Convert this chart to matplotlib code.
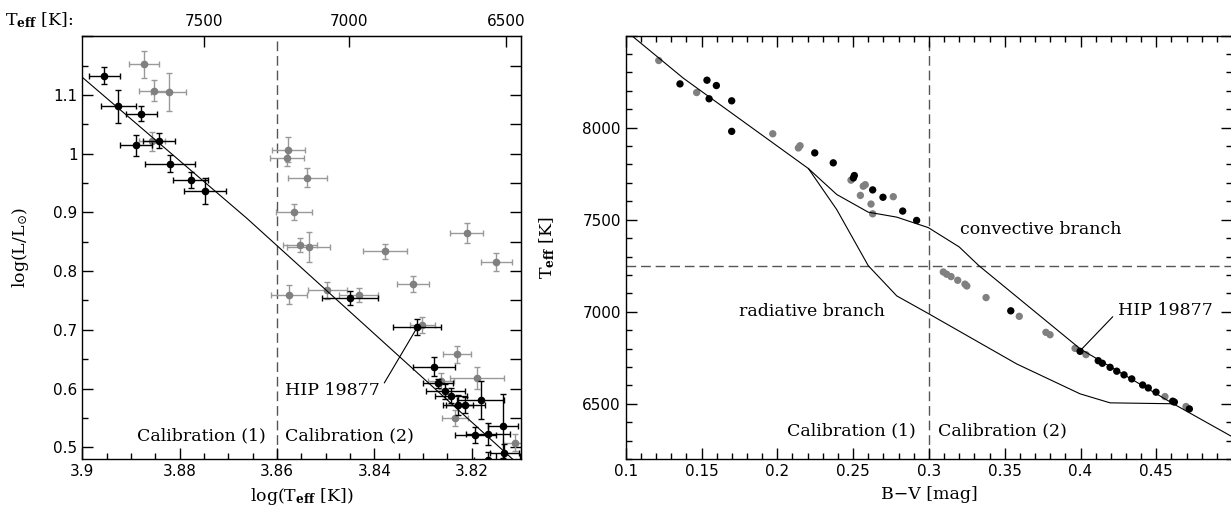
import matplotlib
matplotlib.use('Agg')
import matplotlib.pyplot as plt
import numpy as np
from matplotlib.ticker import MultipleLocator, FuncFormatter, NullLocator

plt.rcParams['mathtext.fontset'] = 'dejavuserif'

# ---------------- Left panel data: log(Teff) vs log(L/Lsun) ----------------
# calibration stars (black)
blk_logT = [3.8955, 3.8926, 3.8879, 3.8889, 3.8843, 3.8820, 3.8777, 3.8748,
            3.8450, 3.8312, 3.8278, 3.8269, 3.8254, 3.8243, 3.8228, 3.8213,
            3.8181, 3.8192, 3.8167, 3.8135, 3.8133, 3.8166]
blk_logL = [1.133, 1.081, 1.068, 1.014, 1.022, 0.983, 0.955, 0.937,
            0.754, 0.705, 0.637, 0.609, 0.595, 0.588, 0.572, 0.572,
            0.580, 0.521, 0.523, 0.536, 0.491, 0.478]
blk_xerr = [0.0032, 0.0036, 0.0032, 0.0033, 0.0033, 0.0051, 0.0036, 0.0043,
            0.0058, 0.0049, 0.0043, 0.0030, 0.0040, 0.0033, 0.0031, 0.0040,
            0.0048, 0.0043, 0.0045, 0.0031, 0.0030, 0.0030]
blk_yerr = [0.014, 0.028, 0.013, 0.018, 0.013, 0.015, 0.013, 0.022,
            0.012, 0.013, 0.016, 0.008, 0.012, 0.013, 0.017, 0.014,
            0.032, 0.014, 0.019, 0.055, 0.014, 0.014]

# other stars (grey)
gry_logT = [3.8873, 3.8853, 3.8822, 3.8857, 3.8577, 3.8580, 3.8538, 3.8565,
            3.8210, 3.8553, 3.8535, 3.8378, 3.8149, 3.8321, 3.8575, 3.8497,
            3.8432, 3.8301, 3.8230, 3.8189, 3.8263, 3.8234, 3.8110]
gry_logL = [1.152, 1.107, 1.105, 1.021, 1.007, 0.993, 0.959, 0.901,
            0.865, 0.844, 0.841, 0.834, 0.816, 0.778, 0.760, 0.767,
            0.760, 0.708, 0.658, 0.618, 0.613, 0.550, 0.508]
gry_xerr = [0.0031, 0.0031, 0.0036, 0.0027, 0.0034, 0.0035, 0.0040, 0.0036,
            0.0034, 0.0035, 0.0045, 0.0045, 0.0032, 0.0033, 0.0037, 0.0040,
            0.0040, 0.0026, 0.0029, 0.0055, 0.0027, 0.0027, 0.0026]
gry_yerr = [0.023, 0.018, 0.033, 0.016, 0.022, 0.014, 0.016, 0.014,
            0.017, 0.012, 0.025, 0.013, 0.015, 0.014, 0.016, 0.014,
            0.012, 0.014, 0.014, 0.018, 0.014, 0.013, 0.014]

# fitted relation
fit_logT = [3.9000, 3.8662, 3.8100]
fit_logL = [1.130, 0.890, 0.468]

teff_ticks = [7500, 7000, 6500]

# ---------------- Right panel data: B-V vs Teff ----------------
r_gry_bv = [0.1218, 0.1468, 0.1970, 0.2139, 0.2150, 0.2486, 0.2548, 0.2567,
            0.2580, 0.2618, 0.2629, 0.2765, 0.3095, 0.3117, 0.3146, 0.3190,
            0.3238, 0.3250, 0.3377, 0.3596, 0.3772, 0.3799, 0.3964, 0.4036,
            0.4557, 0.4696]
r_gry_T = [8365, 8191, 7967, 7890, 7902, 7715, 7632, 7682,
           7690, 7585, 7532, 7625, 7216, 7204, 7191, 7171,
           7150, 7140, 7077, 6975, 6888, 6875, 6801, 6767,
           6539, 6485]
r_blk_bv = [0.1358, 0.1536, 0.1598, 0.1550, 0.1699, 0.1699, 0.2247, 0.2369,
            0.2508, 0.2502, 0.2629, 0.2697, 0.2827, 0.2919, 0.3540, 0.3997,
            0.4117, 0.4144, 0.4195, 0.4239, 0.4287, 0.4338, 0.4410, 0.4447,
            0.4498, 0.4608, 0.4619, 0.4718]
r_blk_T = [8238, 8258, 8229, 8157, 8146, 7980, 7863, 7809,
           7740, 7727, 7662, 7622, 7547, 7496, 7005, 6785,
           6734, 6720, 6698, 6677, 6657, 6635, 6602, 6586,
           6563, 6514, 6509, 6472]

conv_bv = [0.100, 0.138, 0.2205, 0.2392, 0.260, 0.2788, 0.2996, 0.320,
           0.333, 0.400, 0.4612, 0.500]
conv_T = [8527, 8269, 7778, 7637, 7541, 7514, 7457, 7352,
          7250, 6797, 6500, 6321]
rad_bv = [0.2205, 0.2392, 0.260, 0.2788, 0.3003, 0.358, 0.3997, 0.4195, 0.4612]
rad_T = [7778, 7555, 7250, 7086, 6987, 6716, 6554, 6505, 6500]

# ---------------- Figure ----------------
fig = plt.figure(figsize=(12.31, 5.08), dpi=100)
ax1 = fig.add_axes([0.0669, 0.0959, 0.3561, 0.8333])
ax2 = fig.add_axes([0.5083, 0.0965, 0.4926, 0.8333])

SERIF = 'DejaVu Serif'
TXT = 12.5
TICK = 11
GREY = '#808080'
EGREY = '#999999'
DASH = dict(color='#555555', lw=1.0, dashes=(7, 3.5))


def fmt_skip(skip):
    def f(v, p):
        for s in skip:
            if abs(v - s) < 1e-9:
                return ''
        return f'{v:g}'
    return FuncFormatter(f)


# ----- left -----
ax1.errorbar(gry_logT, gry_logL, xerr=gry_xerr, yerr=gry_yerr, fmt='o',
             color=GREY, ms=4.5, ecolor=EGREY, elinewidth=1.0, capsize=2.5,
             capthick=1.0, zorder=2)
ax1.errorbar(blk_logT, blk_logL, xerr=blk_xerr, yerr=blk_yerr, fmt='o',
             color='black', ms=4.5, ecolor='black', elinewidth=1.0, capsize=2.5,
             capthick=1.0, zorder=3)
ax1.plot(fit_logT, fit_logL, color='black', lw=0.8, zorder=4)
ax1.axvline(3.86, **DASH, zorder=1)

ax1.set_xlim(3.9, 3.8099)
ax1.set_ylim(0.4795, 1.2005)
ax1.xaxis.set_major_locator(MultipleLocator(0.02))
ax1.xaxis.set_minor_locator(MultipleLocator(0.005))
ax1.yaxis.set_major_locator(MultipleLocator(0.1))
ax1.yaxis.set_minor_locator(MultipleLocator(0.05))
ax1.xaxis.set_major_formatter(fmt_skip([]))
ax1.yaxis.set_major_formatter(fmt_skip([1.2]))
ax1.tick_params(which='both', direction='in', top=False, right=False,
                labelsize=TICK, width=1.0)
ax1.tick_params(which='major', length=8)
ax1.tick_params(which='minor', length=4.3)

secx = ax1.secondary_xaxis('top', functions=(lambda x: 10 ** np.asarray(x),
                                             lambda t: np.log10(np.asarray(t))))
secx.set_xticks(teff_ticks)
secx.xaxis.set_minor_locator(NullLocator())
secx.xaxis.set_major_formatter(fmt_skip([]))
secx.tick_params(direction='in', length=8, labelsize=TICK, pad=5, width=1.0)

secy = ax1.secondary_yaxis('right')
secy.set_yticks(np.arange(0.5, 1.2, 0.05))
secy.yaxis.set_minor_locator(NullLocator())
secy.tick_params(direction='in', length=8, labelright=False, width=1.0)

ax1.set_xlabel(r'log(T$_{\mathbf{eff}}$ [K])', family=SERIF, fontsize=TXT, labelpad=5)
ax1.set_ylabel(r'log(L/L$_{\odot}$)', family=SERIF, fontsize=TXT, labelpad=16)
fig.text(5 / 1231, 1 - 20 / 508, r'T$_{\mathbf{eff}}$ [K]:', family=SERIF,
         fontsize=TXT, ha='left', va='center')

ax1.text(3.8624, 0.5196, 'Calibration (1)', family=SERIF, fontsize=TXT,
         ha='right', va='center')
ax1.text(3.8583, 0.5196, 'Calibration (2)', family=SERIF, fontsize=TXT,
         ha='left', va='center')
ax1.annotate('HIP 19877', xy=(3.8314, 0.701), xytext=(3.8583, 0.5975),
             family=SERIF, fontsize=TXT, ha='left', va='center',
             arrowprops=dict(arrowstyle='-', lw=0.8, color='black',
                             shrinkA=2, shrinkB=0,
                             relpos=(1.0, 0.5)))

for s in ax1.spines.values():
    s.set_linewidth(1.0)

# ----- right -----
ax2.scatter(r_gry_bv, r_gry_T, s=28, color=GREY, edgecolors='none', zorder=2)
ax2.scatter(r_blk_bv, r_blk_T, s=28, color='black', edgecolors='none', zorder=3)
ax2.plot(conv_bv, conv_T, color='black', lw=0.8, zorder=4)
ax2.plot(rad_bv, rad_T, color='black', lw=0.8, zorder=4)
ax2.axvline(0.3, **DASH, zorder=1)
ax2.axhline(7250, **DASH, zorder=1)

ax2.set_xlim(0.1, 0.5)
ax2.set_ylim(6200, 8500)
ax2.xaxis.set_major_locator(MultipleLocator(0.05))
ax2.xaxis.set_minor_locator(MultipleLocator(0.01))
ax2.yaxis.set_major_locator(MultipleLocator(500))
ax2.yaxis.set_minor_locator(MultipleLocator(100))
ax2.xaxis.set_major_formatter(fmt_skip([0.5]))
ax2.yaxis.set_major_formatter(fmt_skip([8500]))
ax2.tick_params(which='both', direction='in', top=True, right=True,
                labelsize=TICK, width=1.0)
ax2.tick_params(which='major', length=8)
ax2.tick_params(which='minor', length=4.3)

ax2.set_xlabel('B\u2212V [mag]', family=SERIF, fontsize=TXT, labelpad=5)
ax2.set_ylabel(r'T$_{\mathbf{eff}}$ [K]', family=SERIF, fontsize=TXT, labelpad=18)

ax2.text(0.3205, 7447, 'convective branch', family=SERIF, fontsize=TXT,
         ha='left', va='center')
ax2.text(0.175, 7000, 'radiative branch', family=SERIF, fontsize=TXT,
         ha='left', va='center')
ax2.text(0.2915, 6355, 'Calibration (1)', family=SERIF, fontsize=TXT,
         ha='right', va='center')
ax2.text(0.3062, 6355, 'Calibration (2)', family=SERIF, fontsize=TXT,
         ha='left', va='center')
ax2.annotate('HIP 19877', xy=(0.4008, 6797), xytext=(0.4250, 7005),
             family=SERIF, fontsize=TXT, ha='left', va='center',
             arrowprops=dict(arrowstyle='-', lw=0.8, color='black',
                             shrinkA=3, shrinkB=0, relpos=(0.0, 0.5)))
for s in ax2.spines.values():
    s.set_linewidth(1.0)

fig.savefig('out.png', dpi=100)
